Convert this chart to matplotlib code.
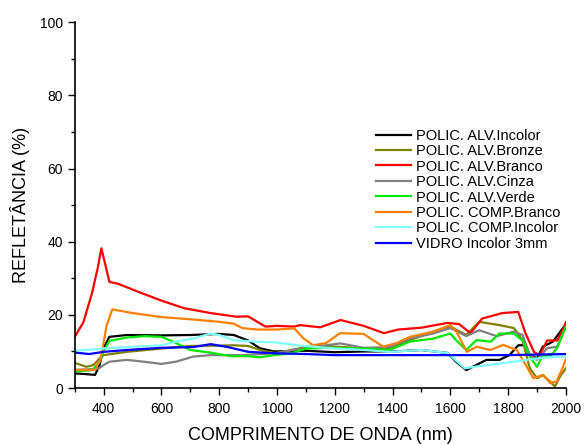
import matplotlib
matplotlib.use("Agg")
import matplotlib.pyplot as plt
from matplotlib.ticker import MultipleLocator

plt.rcParams['font.family'] = ['Liberation Sans', 'DejaVu Sans']

# 数据
labels = ["POLIC. ALV.Incolor", "POLIC. ALV.Bronze", "POLIC. ALV.Branco",
          "POLIC. ALV.Cinza", "POLIC. ALV.Verde", "POLIC. COMP.Branco",
          "POLIC. COMP.Incolor", "VIDRO Incolor 3mm"]
colors = ["#000000", "#808000", "#ff0000", "#808080",
          "#00e800", "#ff8000", "#80ffff", "#0000ff"]

incolor_x = [300, 340, 370, 385, 400, 420, 480, 600, 700, 800, 850, 900, 940, 990,
             1100, 1200, 1300, 1400, 1500, 1590, 1620, 1655, 1690, 1725, 1770, 1805,
             1835, 1855, 1875, 1900, 1920, 1955, 1990, 2000]
incolor_y = [4.0, 3.8, 3.6, 6.0, 11.0, 14.0, 14.5, 14.4, 14.5, 14.8, 14.5, 13.0, 10.9, 10.0,
             10.2, 9.8, 10.0, 10.0, 10.4, 9.6, 7.2, 4.9, 6.3, 7.7, 7.7, 9.0,
             11.7, 11.7, 9.0, 8.1, 11.3, 12.7, 16.4, 17.5]

bronze_x = [300, 340, 365, 385, 400, 480, 600, 700, 800, 850, 900, 950, 1000, 1050, 1100,
            1180, 1300, 1390, 1460, 1540, 1600, 1655, 1700, 1770, 1820, 1850, 1875, 1900,
            1920, 1945, 1962, 1980, 2000]
bronze_y = [6.9, 5.8, 6.3, 8.0, 9.0, 9.9, 10.8, 11.5, 11.6, 11.7, 11.5, 10.2, 9.5, 10.4, 11.2,
            11.4, 10.9, 10.9, 13.1, 15.4, 16.8, 14.5, 18.1, 17.2, 16.4, 13.1, 5.4, 2.7,
            3.5, 1.8, 0.4, 3.2, 5.4]

branco_x = [300, 330, 360, 380, 392, 405, 420, 450, 520, 600, 680, 770, 860, 900, 960, 1000,
            1060, 1080, 1150, 1220, 1300, 1370, 1420, 1500, 1590, 1630, 1670, 1710, 1780,
            1835, 1860, 1890, 1910, 1935, 1970, 1990, 2000]
branco_y = [14.0, 18.0, 26.0, 33.0, 38.2, 34.0, 29.0, 28.5, 26.3, 23.9, 21.8, 20.5, 19.5, 19.6,
            16.8, 17.0, 16.8, 17.2, 16.6, 18.6, 17.0, 15.0, 16.0, 16.5, 17.8, 17.5, 15.0,
            19.0, 20.5, 20.8, 15.0, 9.8, 9.0, 13.0, 13.0, 16.0, 18.0]

cinza_x = [300, 380, 400, 420, 480, 540, 600, 650, 710, 770, 880, 990, 1070, 1150, 1220,
           1300, 1390, 1460, 1540, 1600, 1655, 1700, 1760, 1820, 1850, 1875, 1900, 1935,
           1970, 2000]
cinza_y = [5.0, 5.2, 6.3, 7.2, 7.7, 7.2, 6.6, 7.2, 8.6, 9.0, 9.0, 9.5, 10.6, 11.5, 12.2,
           11.0, 11.2, 13.5, 14.9, 16.4, 14.2, 15.8, 14.2, 15.4, 14.5, 9.0, 7.7, 10.9,
           11.3, 16.9]

verde_x = [300, 360, 385, 400, 420, 480, 540, 600, 640, 700, 770, 840, 900, 940, 990, 1050,
           1100, 1180, 1300, 1390, 1460, 1540, 1600, 1620, 1655, 1690, 1740, 1770, 1820,
           1850, 1875, 1900, 1920, 1945, 1970, 2000]
verde_y = [4.5, 4.9, 7.0, 10.0, 12.9, 13.8, 14.2, 14.0, 12.7, 10.4, 9.7, 8.7, 8.7, 8.4, 9.0, 9.5,
           10.8, 11.0, 10.8, 10.4, 12.7, 13.5, 14.9, 13.1, 10.4, 13.1, 12.7, 14.9, 14.9,
           13.0, 8.6, 5.8, 9.0, 8.6, 11.0, 16.8]

comp_branco_x = [300, 370, 390, 410, 430, 500, 600, 700, 800, 850, 880, 930, 1000, 1060, 1090,
                 1125, 1170, 1218, 1300, 1367, 1414, 1460, 1540, 1600, 1622, 1657, 1692, 1738,
                 1783, 1830, 1865, 1887, 1922, 1945, 1968, 1990, 2000]
comp_branco_y = [4.9, 5.0, 8.0, 17.0, 21.5, 20.5, 19.4, 18.8, 18.1, 17.6, 16.4, 16.0, 16.0, 16.3,
                 13.7, 11.7, 12.3, 15.0, 14.8, 11.3, 12.3, 14.0, 15.4, 17.2, 15.3, 9.9, 11.3,
                 10.4, 11.8, 10.4, 5.8, 2.7, 3.6, 1.4, 1.8, 5.8, 7.9]

comp_incolor_x = [300, 400, 480, 600, 650, 710, 770, 800, 850, 940, 990, 1070, 1180, 1300,
                  1390, 1500, 1590, 1620, 1650, 1700, 1800, 1900, 1970, 2000]
comp_incolor_y = [10.2, 10.8, 11.2, 11.7, 12.7, 13.5, 14.9, 14.5, 13.1, 12.6, 12.5, 11.7, 10.9,
                  10.4, 9.9, 10.4, 9.6, 7.5, 5.4, 6.0, 7.0, 8.1, 8.6, 8.6]

vidro_x = [300, 350, 400, 480, 600, 710, 770, 830, 900, 990, 1100, 1200, 1300, 1400, 1600,
           1800, 2000]
vidro_y = [9.7, 9.3, 9.9, 10.4, 11.0, 11.2, 12.0, 11.2, 9.9, 9.5, 9.3, 9.0, 9.0, 9.0, 9.0,
           9.0, 9.3]

series = [(incolor_x, incolor_y), (bronze_x, bronze_y), (branco_x, branco_y),
          (cinza_x, cinza_y), (verde_x, verde_y), (comp_branco_x, comp_branco_y),
          (comp_incolor_x, comp_incolor_y), (vidro_x, vidro_y)]

fig = plt.figure(figsize=(5.84, 4.44), dpi=100)
ax = fig.add_axes([0.128, 0.126, 0.841, 0.824])

for (x, y), lab, c in zip(series, labels, colors):
    ax.plot(x, y, color=c, lw=1.6, label=lab)

ax.set_xlim(300, 2000)
ax.set_ylim(0, 100)
ax.xaxis.set_minor_locator(MultipleLocator(100))
ax.yaxis.set_major_locator(MultipleLocator(20))
ax.yaxis.set_minor_locator(MultipleLocator(10))
ax.set_xticks([400, 600, 800, 1000, 1200, 1400, 1600, 1800, 2000])
ax.tick_params(which='major', direction='out', length=5, width=1, labelsize=10)
ax.tick_params(which='minor', direction='out', length=3, width=1)
ax.tick_params(axis='x', which='major', pad=5)
for s in ['top', 'right']:
    ax.spines[s].set_visible(False)
for s in ['left', 'bottom']:
    ax.spines[s].set_linewidth(1.2)

ax.set_xlabel("COMPRIMENTO DE ONDA (nm)", fontsize=13, labelpad=8)
ax.set_ylabel("REFLETÂNCIA (%)", fontsize=13, labelpad=7)

ax.legend(loc='upper left', bbox_to_anchor=(364 / 584, 1 - 117 / 444),
          bbox_transform=fig.transFigure, frameon=False, fontsize=10.5,
          handlelength=2.4, handletextpad=0.35, labelspacing=0.1, borderpad=0.3)

fig.savefig("out.png", dpi=100)
